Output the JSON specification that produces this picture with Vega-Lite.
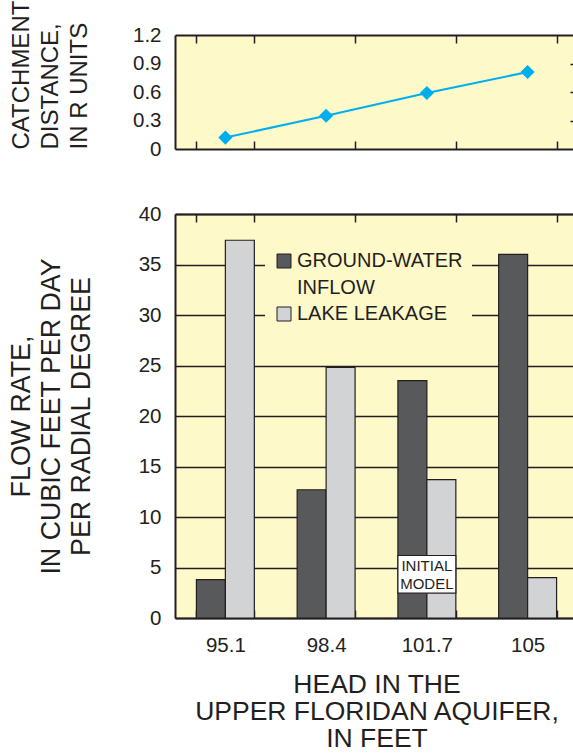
{
  "$schema": "https://vega.github.io/schema/vega-lite/v6.json",
  "padding": {"left": 8, "top": 0, "right": 0, "bottom": 0},
  "config": {
    "font": "Liberation Sans",
    "view": {"fill": "#FEF9C9", "stroke": null},
    "axis": {
      "domainColor": "#231f20", "domainWidth": 2,
      "tickColor": "#231f20", "tickWidth": 1.5,
      "labelColor": "#231f20", "labelFontSize": 20.5, "labelFont": "Liberation Sans",
      "titleColor": "#231f20", "titleFontWeight": "normal", "titleFont": "Liberation Sans"
    },
    "concat": {"spacing": 44}
  },
  "datasets": {
    "catchment": [
      {"head": "95.1", "distance": 0.12},
      {"head": "98.4", "distance": 0.35},
      {"head": "101.7", "distance": 0.59},
      {"head": "105", "distance": 0.81}
    ],
    "flow": [
      {"head": "95.1", "source": "GROUND-WATER INFLOW", "flow": 3.8},
      {"head": "95.1", "source": "LAKE LEAKAGE", "flow": 37.4},
      {"head": "98.4", "source": "GROUND-WATER INFLOW", "flow": 12.7},
      {"head": "98.4", "source": "LAKE LEAKAGE", "flow": 24.8},
      {"head": "101.7", "source": "GROUND-WATER INFLOW", "flow": 23.5},
      {"head": "101.7", "source": "LAKE LEAKAGE", "flow": 13.7},
      {"head": "105", "source": "GROUND-WATER INFLOW", "flow": 36.0},
      {"head": "105", "source": "LAKE LEAKAGE", "flow": 4.0}
    ],
    "note": [
      {"head": "101.7", "label": "INITIAL\nMODEL", "low": 2.46, "high": 6.19, "labelY": 5.15}
    ]
  },
  "resolve": {"legend": {"color": "independent"}},
  "vconcat": [
    {
      "width": 403,
      "height": 114,
      "data": {"name": "catchment"},
      "layer": [
        {
          "mark": {"type": "line", "color": "#00AEEF", "strokeWidth": 2,
                   "point": {"shape": "diamond", "size": 200, "filled": true, "fill": "#00AEEF", "opacity": 1}},
          "encoding": {
            "x": {"field": "head", "type": "nominal", "sort": null,
                  "scale": {"type": "band", "domain": ["95.1", "98.4", "101.7", "105"], "paddingInner": 0.425, "paddingOuter": 0.2125},
                  "axis": {"orient": "bottom", "labels": false, "title": null, "tickBand": "extent", "tickSize": -8}},
            "y": {"field": "distance", "type": "quantitative",
                  "scale": {"domain": [0, 1.2], "nice": false},
                  "axis": {"values": [0, 0.3, 0.6, 0.9, 1.2], "ticks": false, "grid": false, "labelPadding": 14,
                           "labelExpr": "datum.value == 0 ? '0' : format(datum.value, '.1f')",
                           "title": ["CATCHMENT", "DISTANCE,", "IN R UNITS"], "titleFontSize": 24, "titleLineHeight": 29,
                           "titleAnchor": "start", "titlePadding": 41}}
          }
        },
        {
          "mark": {"type": "point", "opacity": 0},
          "encoding": {
            "x": {"field": "head", "type": "nominal", "sort": null,
                  "scale": {"type": "band", "domain": ["95.1", "98.4", "101.7", "105"], "paddingInner": 0.425, "paddingOuter": 0.2125},
                  "axis": {"orient": "top", "labels": false, "title": null, "tickBand": "extent", "tickSize": -8}},
            "y": {"field": "distance", "type": "quantitative",
                  "axis": {"orient": "right", "values": [0.3, 0.6, 0.9], "labels": false, "title": null, "tickSize": -8, "grid": false}}
          }
        }
      ],
      "resolve": {"axis": {"x": "independent", "y": "independent"}}
    },
    {
      "width": 403,
      "height": 404,
      "layer": [
        {
          "data": {"name": "flow"},
          "mark": {"type": "bar", "stroke": "#231f20", "strokeWidth": 1.2},
          "encoding": {
            "x": {"field": "head", "type": "nominal", "sort": null,
                  "scale": {"type": "band", "domain": ["95.1", "98.4", "101.7", "105"], "paddingInner": 0.425, "paddingOuter": 0.2125},
                  "axis": {"orient": "bottom", "labelAngle": 0, "tickBand": "extent", "tickSize": -8, "labelPadding": 25,
                           "title": ["HEAD IN THE", "UPPER FLORIDAN AQUIFER,", "IN FEET"], "titleFontSize": 26.5, "titleLineHeight": 27, "titlePadding": 16}},
            "xOffset": {"field": "source", "type": "nominal"},
            "y": {"field": "flow", "type": "quantitative",
                  "scale": {"domain": [0, 40], "nice": false},
                  "axis": {"values": [0, 5, 10, 15, 20, 25, 30, 35, 40], "ticks": false, "grid": true, "gridColor": "#231f20", "gridWidth": 1.5,
                           "labelPadding": 14,
                           "title": ["FLOW RATE,", "IN CUBIC FEET PER DAY", "PER RADIAL DEGREE"], "titleFontSize": 26.8, "titleLineHeight": 30, "titlePadding": 43}},
            "color": {"field": "source", "type": "nominal",
                      "scale": {"domain": ["GROUND-WATER INFLOW", "LAKE LEAKAGE"], "range": ["#58595B", "#D1D3D4"]},
                      "legend": {"orient": "none", "legendX": 90, "legendY": 28, "title": null,
                                 "symbolType": "square", "symbolSize": 196, "symbolStrokeColor": "#231f20", "symbolStrokeWidth": 1,
                                 "symbolOpacity": 1,
                                 "labelFontSize": 20, "labelColor": "#231f20", "labelLimit": 400, "labelOffset": 3,
                                 "labelExpr": "datum.label == 'GROUND-WATER INFLOW' ? ['GROUND-WATER', 'INFLOW'] : datum.label",
                                 "fillColor": "#FEF9C9", "padding": 9, "rowPadding": 6,
                                 "encode": {"labels": {"update": {"lineHeight": {"value": 27}}}}}}
          }
        },
        {
          "data": {"name": "note"},
          "mark": {"type": "bar", "fill": "white", "stroke": "#231f20", "strokeWidth": 1.2},
          "encoding": {
            "x": {"field": "head", "type": "nominal", "sort": null, "axis": null},
            "y": {"field": "low", "type": "quantitative", "axis": null},
            "y2": {"field": "high"}
          }
        },
        {
          "data": {"name": "note"},
          "mark": {"type": "text", "fontSize": 15, "lineHeight": 18, "lineBreak": "\n", "color": "#231f20", "baseline": "middle"},
          "encoding": {
            "x": {"field": "head", "type": "nominal", "sort": null, "axis": null},
            "y": {"field": "labelY", "type": "quantitative", "axis": null},
            "text": {"field": "label"}
          }
        },
        {
          "data": {"name": "flow"},
          "mark": {"type": "point", "opacity": 0},
          "encoding": {
            "x": {"field": "head", "type": "nominal", "sort": null,
                  "axis": {"orient": "top", "labels": false, "title": null, "tickBand": "extent", "tickSize": -8}},
            "y": {"field": "flow", "type": "quantitative",
                  "axis": {"orient": "right", "labels": false, "title": null, "ticks": false, "grid": false}}
          }
        }
      ],
      "resolve": {"axis": {"x": "independent", "y": "independent"}}
    }
  ]
}
